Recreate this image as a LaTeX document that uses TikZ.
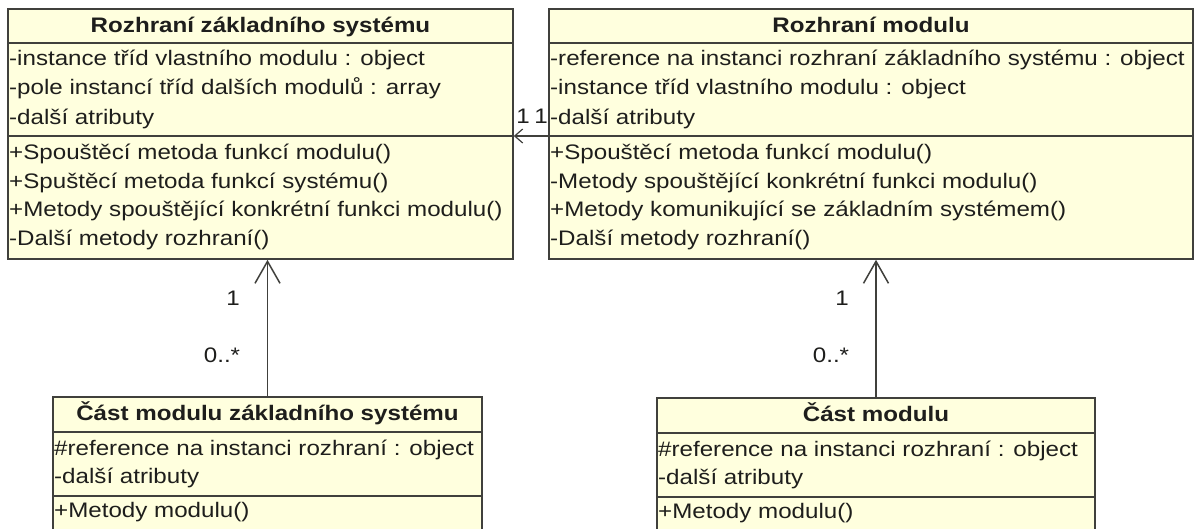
\documentclass[tikz,border=0pt]{standalone}
\usepackage{fontspec}
\usetikzlibrary{arrows.meta}
\newfontfamily\umlfont{Liberation Sans}[FakeStretch=1.15]
\definecolor{classfill}{RGB}{255,255,222}
\definecolor{classline}{RGB}{64,64,60}
\definecolor{inktext}{RGB}{30,30,28}
\begin{document}
\begin{tikzpicture}[x=1pt,y=-1pt,
  every node/.style={text=inktext},
  classbox/.style={draw=classline, fill=classfill, line width=1.6pt, inner sep=0pt},
  sepline/.style={draw=classline, line width=1.6pt},
  titletext/.style={anchor=base, inner sep=0pt, font=\umlfont\fontsize{21}{25}\selectfont\bfseries},
  membertext/.style={anchor=base west, inner sep=0pt, font=\umlfont\fontsize{21}{25}\selectfont},
  multtext/.style={inner sep=0pt, font=\umlfont\fontsize{21}{25}\selectfont},
  assoc/.style={draw=classline, line width=1.5pt, -{Straight Barb[length=22pt,width=25pt,line width=1.5pt]}},
  assocsmall/.style={draw=classline, line width=1.5pt, -{Straight Barb[length=8pt,width=14pt,line width=1.2pt]}}
]
\clip (0,0) rectangle (1200,528);
\fill[white] (0,0) rectangle (1200,528);

% --- class: Rozhraní základního systému ---
\node[classbox, minimum width=505pt, minimum height=250pt] (A) at (260.5,134) {};
\coordinate (Atitle) at (0,43);
\coordinate (Aattr) at (0,136);
\draw[sepline] (A.west |- Atitle) -- (A.east |- Atitle);
\draw[sepline] (A.west |- Aattr) -- (A.east |- Aattr);
\node[titletext] (At) at (260.5,32) {Rozhraní základního systému};
\node[membertext] (Aa1) at (9,65) {-instance tříd vlastního modulu : object};
\node[membertext] (Aa2) at (9,94.5) {-pole instancí tříd dalších modulů : array};
\node[membertext] (Aa3) at (9,124) {-další atributy};
\node[membertext] (Am1) at (9,159) {+Spouštěcí metoda funkcí modulu()};
\node[membertext] (Am2) at (9,188) {+Spuštěcí metoda funkcí systému()};
\node[membertext] (Am3) at (9,216.5) {+Metody spouštějící konkrétní funkci modulu()};
\node[membertext] (Am4) at (9,245) {-Další metody rozhraní()};

% --- class: Rozhraní modulu ---
\node[classbox, minimum width=644pt, minimum height=250pt] (B) at (871,134) {};
\coordinate (Btitle) at (0,43);
\coordinate (Battr) at (0,136);
\draw[sepline] (B.west |- Btitle) -- (B.east |- Btitle);
\draw[sepline] (B.west |- Battr) -- (B.east |- Battr);
\node[titletext] (Bt) at (871,32) {Rozhraní modulu};
\node[membertext] (Ba1) at (550,65) {-reference na instanci rozhraní základního systému : object};
\node[membertext] (Ba2) at (550,94.5) {-instance tříd vlastního modulu : object};
\node[membertext] (Ba3) at (550,124) {-další atributy};
\node[membertext] (Bm1) at (550,159) {+Spouštěcí metoda funkcí modulu()};
\node[membertext] (Bm2) at (550,188) {-Metody spouštějící konkrétní funkci modulu()};
\node[membertext] (Bm3) at (550,216.5) {+Metody komunikující se základním systémem()};
\node[membertext] (Bm4) at (550,245) {-Další metody rozhraní()};

% --- class: Část modulu základního systému ---
\node[classbox, minimum width=429pt, minimum height=150pt] (C) at (267.5,472) {};
\coordinate (Ctitle) at (0,432);
\coordinate (Cattr) at (0,496);
\draw[sepline] (C.west |- Ctitle) -- (C.east |- Ctitle);
\draw[sepline] (C.west |- Cattr) -- (C.east |- Cattr);
\node[titletext] (Ct) at (267.5,420) {Část modulu základního systému};
\node[membertext] (Ca1) at (54,455) {\#reference na instanci rozhraní : object};
\node[membertext] (Ca2) at (54,483) {-další atributy};
\node[membertext] (Cm1) at (54,517) {+Metody modulu()};

% --- class: Část modulu ---
\node[classbox, minimum width=438pt, minimum height=150pt] (D) at (876,473) {};
\coordinate (Dtitle) at (0,433);
\coordinate (Dattr) at (0,497);
\draw[sepline] (D.west |- Dtitle) -- (D.east |- Dtitle);
\draw[sepline] (D.west |- Dattr) -- (D.east |- Dattr);
\node[titletext] (Dt) at (876,421) {Část modulu};
\node[membertext] (Da1) at (658,456) {\#reference na instanci rozhraní : object};
\node[membertext] (Da2) at (658,484) {-další atributy};
\node[membertext] (Dm1) at (658,518) {+Metody modulu()};

% --- associations ---
\draw[assocsmall] (B.west |- Aattr) -- (A.east |- Aattr);
\node[multtext] (mAB1) at (523,116) {1};
\node[multtext] (mAB2) at (541,116) {1};

\draw[assoc] (C.north) -- (C.north |- A.south);
\node[multtext] (mCA1) at (233,298) {1};
\node[multtext] (mCA2) at (222,355) {0..*};

\draw[assoc] (D.north) -- (D.north |- B.south);
\node[multtext] (mDB1) at (842,298) {1};
\node[multtext] (mDB2) at (831,355) {0..*};
\end{tikzpicture}
\end{document}
